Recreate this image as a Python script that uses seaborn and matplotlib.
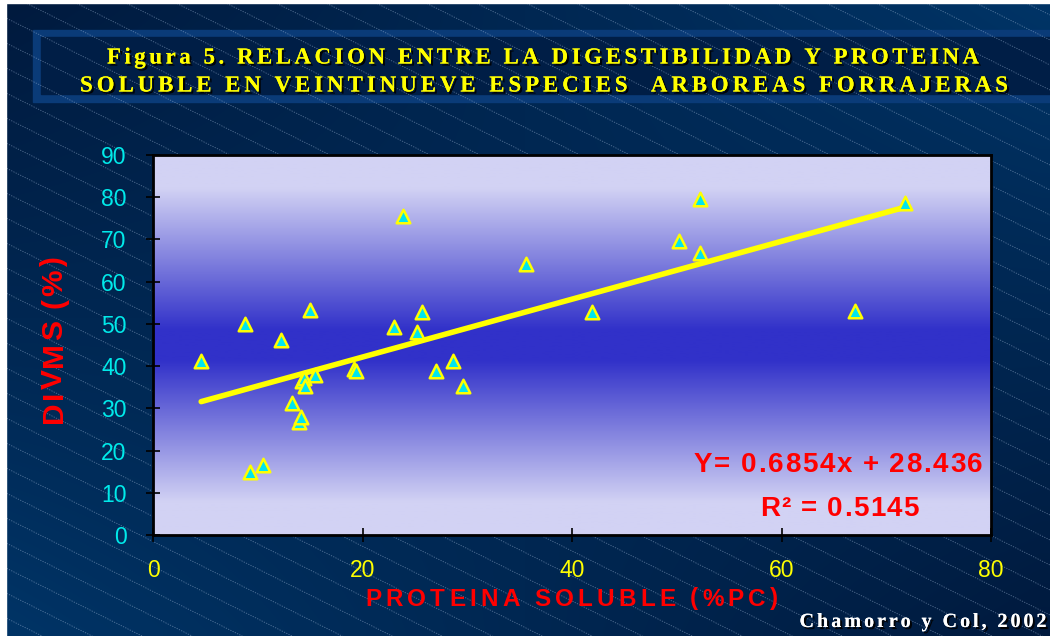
import numpy as np
import matplotlib
matplotlib.use("Agg")
import matplotlib.pyplot as plt
import matplotlib.colors as mcolors
import matplotlib.patheffects as pe
from matplotlib.font_manager import FontProperties
import seaborn as sns
import pandas as pd

W, H = 1050, 636

# Datos (29 especies)
proteina = [4.6, 8.8, 9.3, 10.5, 12.2, 13.3, 13.9, 14.1, 14.2, 14.4,
            14.5, 15.5, 15.0, 19.2, 19.4, 23.0, 23.9, 25.2, 25.7, 27.0,
            28.6, 29.6, 35.6, 41.9, 50.2, 52.2, 52.2, 67.0, 71.8]
divms = [41.1, 50.0, 15.0, 16.5, 46.3, 31.2, 26.7, 27.9, 36.5, 37.3,
         35.4, 37.9, 53.2, 39.2, 38.8, 49.2, 75.5, 48.1, 52.9, 38.9,
         41.1, 35.3, 64.2, 52.8, 69.7, 79.6, 66.7, 53.1, 78.6]

SLOPE = 0.6854
INTERCEPT = 28.436
R2 = 0.5145

X_TICKS = [0, 20, 40, 60, 80]
Y_TICKS = [0, 10, 20, 30, 40, 50, 60, 70, 80, 90]

TITLE_1 = "Figura 5. RELACION ENTRE LA DIGESTIBILIDAD Y PROTEINA"
TITLE_2 = "SOLUBLE EN VEINTINUEVE ESPECIES  ARBOREAS FORRAJERAS"
XLABEL = "PROTEINA SOLUBLE (%PC)"
YLABEL = "DIVMS (%)"
EQ_1 = f"Y= {SLOPE}x + {INTERCEPT}"
EQ_2 = f"R\u00b2 = {R2}"
SOURCE = "Chamorro y Col, 2002"

SANS = "Liberation Sans"
SERIF = "Liberation Serif"

sns.set_theme(style="white")
plt.rcParams["font.family"] = [SANS, "DejaVu Sans"]


def spaced_text(fig, s, cx, base, width, size, family, color,
                vertical=False, effects=None):
    """Draw s letter by letter so it spans `width` pixels (letter-spaced)."""
    renderer = fig.canvas.get_renderer()
    fp = FontProperties(family=family, weight="bold", size=size)
    widths = []
    for ch in s:
        if ch == " ":
            widths.append(size * fig.dpi / 72 * 0.25)
        else:
            w, _, _ = renderer.get_text_width_height_descent(ch, fp, ismath=False)
            widths.append(w)
    track = (width - sum(widths)) / (len(s) - 1)
    pos = -width / 2
    for ch, w in zip(s, widths):
        if ch != " ":
            if vertical:
                x, y, rot = base, cx - (pos + w / 2), 90
            else:
                x, y, rot = cx + pos + w / 2, base, 0
            fig.text(x / W, 1 - y / H, ch, fontproperties=fp, color=color,
                     ha="center", va="baseline", rotation=rot,
                     rotation_mode="anchor", path_effects=effects, zorder=5)
        pos += w + track


fig = plt.figure(figsize=(W / 100, H / 100), dpi=100)

# fondo de la diapositiva
bg = fig.add_axes([0, 0, 1, 1], zorder=-10)
c_dark = np.array(mcolors.to_rgb("#001a3e"))
c_light = np.array(mcolors.to_rgb("#003466"))
u = np.linspace(0, 1, 64)
uu, vv = np.meshgrid(u, u)
mix = (uu * (1 - vv) + (1 - uu) * vv)[..., None]
bg.imshow(c_dark + (c_light - c_dark) * mix, extent=[0, W, H, 0],
          aspect="auto", interpolation="bilinear")
bg.add_patch(plt.Rectangle((33, 30), W - 33, 72, color="#0a3b78", zorder=2))
bg.add_patch(plt.Rectangle((41, 37), W - 41, 57, color="#001e46", zorder=3))
for c in range(-560, H + 20, 25):
    bg.plot([0, W], [c, c + 0.5 * W], color="#a8bedb", lw=0.6,
            ls=(0, (1.5, 1.5)), alpha=0.5, zorder=4)
bg.add_patch(plt.Rectangle((0, 0), 6, H, color="white", zorder=5))
bg.add_patch(plt.Rectangle((0, 0), W, 3, color="white", zorder=5))
bg.set_xlim(0, W)
bg.set_ylim(H, 0)
bg.axis("off")

# area del grafico
ax = fig.add_axes([153 / W, 1 - 535 / H, (991 - 153) / W, (535 - 155) / H])
t = np.abs(np.linspace(0, 1, 256) - 0.5) * 2
w = np.clip((t - 0.08) / 0.75, 0, 1)
light = np.array(mcolors.to_rgb("#d2d2f4"))
blue = np.array(mcolors.to_rgb("#3131c9"))
ax.imshow((blue + (light - blue) * w[:, None])[:, None, :],
          extent=[X_TICKS[0], X_TICKS[-1], Y_TICKS[0], Y_TICKS[-1]],
          aspect="auto", origin="lower", zorder=0)

xfit = np.array([min(proteina), max(proteina)])
fit = pd.DataFrame({"x": xfit, "y": SLOPE * xfit + INTERCEPT})
sns.lineplot(data=fit, x="x", y="y", color="#ffff00", lw=4, ax=ax, zorder=3)

df = pd.DataFrame({"proteina": proteina, "divms": divms})
sns.scatterplot(data=df, x="proteina", y="divms", marker="^", s=95,
                color="#00e5ee", edgecolor="#ffff00", linewidth=1.8,
                ax=ax, zorder=4)

ax.set_xlim(X_TICKS[0], X_TICKS[-1])
ax.set_ylim(Y_TICKS[0], Y_TICKS[-1])
ax.set_xticks(X_TICKS)
ax.set_yticks(Y_TICKS)
ax.set_xlabel("")
ax.set_ylabel("")
ax.tick_params(axis="both", direction="inout", length=10, width=1.2,
               color="black", labelsize=16.5, left=True, bottom=True)
ax.tick_params(axis="y", pad=14, labelcolor="#00eaea")
ax.tick_params(axis="x", pad=12, labelcolor="#ffff00")
for sp in ax.spines.values():
    sp.set_color("black")
    sp.set_linewidth(2)

fig.canvas.draw()
shadow = [pe.withSimplePatchShadow(offset=(1.5, -1.5), shadow_rgbFace="black",
                                   alpha=0.9), pe.Normal()]
spaced_text(fig, TITLE_1, 543, 63.5, 872, 16.5, SERIF, "#ffff00", effects=shadow)
spaced_text(fig, TITLE_2, 544, 91.5, 928, 16.5, SERIF, "#ffff00", effects=shadow)
spaced_text(fig, YLABEL, 340, 62, 166, 21.5, SANS, "#ff0000", vertical=True)
spaced_text(fig, XLABEL, 571.5, 605.5, 413, 17.5, SANS, "#ff0000")
spaced_text(fig, EQ_1, 838.5, 472, 289, 20, SANS, "#ff0000")
spaced_text(fig, EQ_2, 839.5, 516, 159, 20, SANS, "#ff0000")
spaced_text(fig, SOURCE, 923, 627, 247, 14.5, SERIF, "white", effects=shadow)

fig.savefig("out.png", dpi=100)
